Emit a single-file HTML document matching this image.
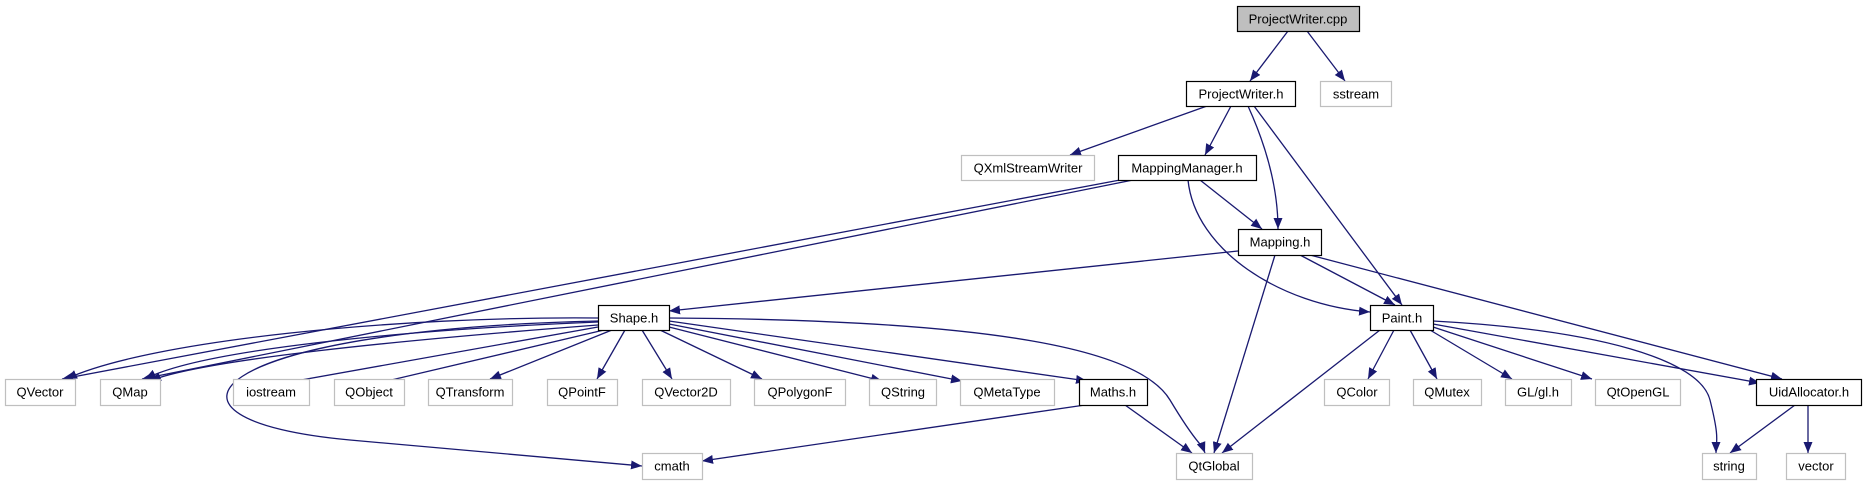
<!DOCTYPE html>
<html><head><meta charset="utf-8"><style>
html,body{margin:0;padding:0;background:#fff;}
svg{display:block;}
text{font-family:"Liberation Sans",sans-serif;font-size:13px;text-anchor:middle;dominant-baseline:central;fill:#000;}
</style></head><body>
<svg width="1867" height="485" viewBox="0 0 1867 485" xmlns="http://www.w3.org/2000/svg">
<defs>
<marker id="a" markerUnits="userSpaceOnUse" markerWidth="12" markerHeight="10" refX="11" refY="4.5" orient="auto">
<path d="M0,0 L11,4.5 L0,9 z" fill="#191970"/>
</marker>
</defs>
<g fill="none" stroke="#191970" stroke-width="1.3" marker-end="url(#a)">
<path d="M1288,31 L1250,81"/>
<path d="M1307,31 L1345,81"/>
<path d="M1207,106 L1070,155"/>
<path d="M1231,106 L1205,155"/>
<path d="M1248,106 C1268,150 1278,190 1278,229"/>
<path d="M1254,106 L1402,305"/>
<path d="M1120,180 L62,379"/>
<path d="M1133,180 L142,379"/>
<path d="M1200,180 L1262,229"/>
<path d="M1188,180 C1195,250 1280,305 1370,312"/>
<path d="M1238,251 L669,311"/>
<path d="M1300,255 L1395,305"/>
<path d="M1275,255 L1214,453"/>
<path d="M1310,255 L1782,379"/>
<path d="M598,318 C400,316 150,340 66,379"/>
<path d="M598,322 C400,330 200,350 145,379"/>
<path d="M598,325 C400,340 200,360 150,381"/>
<path d="M598,321 C200,330 130,420 350,440 S600,462 642,466"/>
<path d="M598,327 L262,387"/>
<path d="M604,330 L340,392"/>
<path d="M612,330 L490,379"/>
<path d="M625,330 L597,379"/>
<path d="M642,330 L672,379"/>
<path d="M660,330 L762,379"/>
<path d="M669,327 L882,381"/>
<path d="M669,324 L962,381"/>
<path d="M669,321 L1087,381"/>
<path d="M669,318 C1000,320 1140,350 1170,400 S1200,440 1205,453"/>
<path d="M1085,405 L702,461"/>
<path d="M1125,405 L1192,453"/>
<path d="M1380,330 L1222,453"/>
<path d="M1394,330 L1368,379"/>
<path d="M1410,330 L1437,379"/>
<path d="M1430,330 L1512,379"/>
<path d="M1433,327 L1592,379"/>
<path d="M1433,324 L1760,383"/>
<path d="M1433,321 C1600,330 1700,360 1710,400 S1716,440 1716,453"/>
<path d="M1795,405 L1730,453"/>
<path d="M1808,405 L1808,453"/>
</g>
<g stroke-width="1.2">
<rect x="1237.5" y="6.5" width="122" height="25" fill="#bfbfbf" stroke="#000"/>
<rect x="1320.5" y="81.5" width="71" height="25" fill="#fff" stroke="#bfbfbf"/>
<rect x="1186.5" y="81.5" width="109" height="25" fill="#fff" stroke="#000"/>
<rect x="961.5" y="155.5" width="133" height="25" fill="#fff" stroke="#bfbfbf"/>
<rect x="1118.5" y="155.5" width="138" height="25" fill="#fff" stroke="#000"/>
<rect x="1238.5" y="229.5" width="83" height="26" fill="#fff" stroke="#000"/>
<rect x="598.5" y="305.5" width="71" height="25" fill="#fff" stroke="#000"/>
<rect x="1370.5" y="305.5" width="63" height="25" fill="#fff" stroke="#000"/>
<g fill="#fff" stroke="#bfbfbf">
<rect x="5.5" y="379.5" width="70" height="26"/>
<rect x="100.5" y="379.5" width="60" height="26"/>
<rect x="233.5" y="379.5" width="76" height="26"/>
<rect x="334.5" y="379.5" width="70" height="26"/>
<rect x="428.5" y="379.5" width="84" height="26"/>
<rect x="547.5" y="379.5" width="70" height="26"/>
<rect x="642.5" y="379.5" width="88" height="26"/>
<rect x="754.5" y="379.5" width="91" height="26"/>
<rect x="869.5" y="379.5" width="67" height="26"/>
<rect x="960.5" y="379.5" width="94" height="26"/>
<rect x="1324.5" y="379.5" width="65" height="26"/>
<rect x="1413.5" y="379.5" width="68" height="26"/>
<rect x="1505.5" y="379.5" width="66" height="26"/>
<rect x="1595.5" y="379.5" width="85" height="26"/>
<rect x="642.5" y="453.5" width="60" height="26"/>
<rect x="1176.5" y="453.5" width="76" height="26"/>
<rect x="1702.5" y="453.5" width="54" height="26"/>
<rect x="1786.5" y="453.5" width="59" height="26"/>
</g>
<rect x="1079.5" y="379.5" width="68" height="26" fill="#fff" stroke="#000"/>
<rect x="1756.5" y="379.5" width="105" height="26" fill="#fff" stroke="#000"/>
</g>
<text x="1298" y="19">ProjectWriter.cpp</text>
<text x="1356" y="94">sstream</text>
<text x="1241" y="94">ProjectWriter.h</text>
<text x="1028" y="168">QXmlStreamWriter</text>
<text x="1187" y="168">MappingManager.h</text>
<text x="1280" y="242">Mapping.h</text>
<text x="634" y="318">Shape.h</text>
<text x="1402" y="318">Paint.h</text>
<text x="40" y="392">QVector</text>
<text x="130" y="392">QMap</text>
<text x="271" y="392">iostream</text>
<text x="369" y="392">QObject</text>
<text x="470" y="392">QTransform</text>
<text x="582" y="392">QPointF</text>
<text x="686" y="392">QVector2D</text>
<text x="800" y="392">QPolygonF</text>
<text x="903" y="392">QString</text>
<text x="1007" y="392">QMetaType</text>
<text x="1113" y="392">Maths.h</text>
<text x="1357" y="392">QColor</text>
<text x="1447" y="392">QMutex</text>
<text x="1538" y="392">GL/gl.h</text>
<text x="1638" y="392">QtOpenGL</text>
<text x="1809" y="392">UidAllocator.h</text>
<text x="672" y="466">cmath</text>
<text x="1214" y="466">QtGlobal</text>
<text x="1729" y="466">string</text>
<text x="1816" y="466">vector</text>
</svg>
</body></html>
